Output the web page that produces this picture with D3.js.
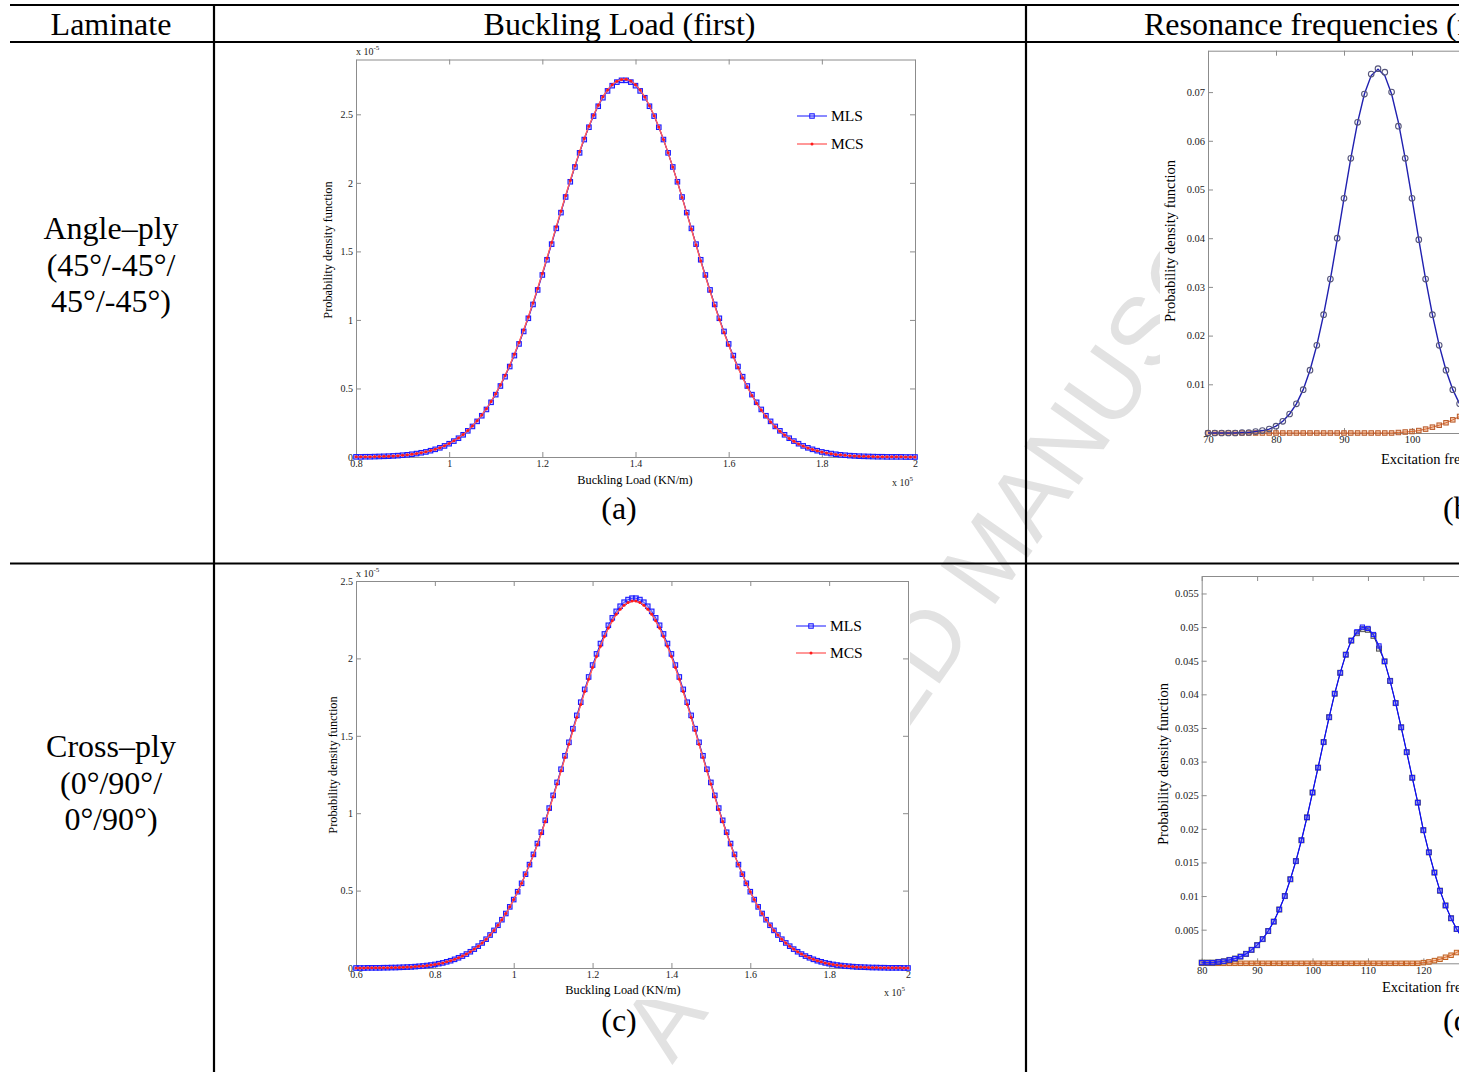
<!DOCTYPE html>
<html>
<head>
<meta charset="utf-8">
<script src="https://cdn.jsdelivr.net/npm/d3@7"></script>
<style>
body { margin: 0; background: #fff; overflow: hidden; }
svg { display: block; }
</style>
</head>
<body>
<div id="chart"></div>
<script>
// table texts
var headers = ["Laminate", "Buckling Load (first)", "Resonance frequencies (first)"];
var laminates = [["Angle\u2013ply", "(45\u00b0/-45\u00b0/", "45\u00b0/-45\u00b0)"], ["Cross\u2013ply", "(0\u00b0/90\u00b0/", "0\u00b0/90\u00b0)"]];
var captions = ["(a)", "(b)", "(c)", "(d)"];
var seriesNames = ["MLS", "MCS"];

// (a) angle-ply buckling load, x in 1e5 KN/m, pdf in 1e-5
var angleLoad = [0.80,0.81,0.82,0.83,0.84,0.85,0.86,0.87,0.88,0.89,
  0.90,0.91,0.92,0.93,0.94,0.95,0.96,0.97,0.98,0.99,
  1.00,1.01,1.02,1.03,1.04,1.05,1.06,1.07,1.08,1.09,
  1.10,1.11,1.12,1.13,1.14,1.15,1.16,1.17,1.18,1.19,
  1.20,1.21,1.22,1.23,1.24,1.25,1.26,1.27,1.28,1.29,
  1.30,1.31,1.32,1.33,1.34,1.35,1.36,1.37,1.38,1.39,
  1.40,1.41,1.42,1.43,1.44,1.45,1.46,1.47,1.48,1.49,
  1.50,1.51,1.52,1.53,1.54,1.55,1.56,1.57,1.58,1.59,
  1.60,1.61,1.62,1.63,1.64,1.65,1.66,1.67,1.68,1.69,
  1.70,1.71,1.72,1.73,1.74,1.75,1.76,1.77,1.78,1.79,
  1.80,1.81,1.82,1.83,1.84,1.85,1.86,1.87,1.88,1.89,
  1.90,1.91,1.92,1.93,1.94,1.95,1.96,1.97,1.98,1.99,2.00];
var angleMLS = [0.001,0.001,0.002,0.002,0.003,0.004,0.005,0.006,0.008,0.010,0.013,0.016,0.020,0.025,0.031,0.037,0.046,0.056,0.067,0.081,
  0.097,0.116,0.137,0.162,0.191,0.223,0.260,0.301,0.347,0.399,0.455,0.518,0.586,0.660,0.740,0.825,0.916,1.012,1.113,1.219,
  1.328,1.439,1.553,1.668,1.783,1.897,2.008,2.116,2.219,2.316,2.406,2.487,2.559,2.621,2.671,2.709,2.735,2.748,
  2.748,2.735,2.709,2.671,2.621,2.559,2.487,2.406,2.316,2.219,2.116,2.008,1.897,1.783,1.668,1.553,1.439,1.328,1.219,1.113,
  1.012,0.916,0.825,0.740,0.660,0.586,0.518,0.455,0.399,0.347,0.301,0.260,0.223,0.191,0.162,0.137,0.116,0.097,0.081,0.067,
  0.056,0.046,0.037,0.031,0.025,0.020,0.016,0.013,0.010,0.008,0.006,0.005,0.004,0.003,0.002,0.002,0.001,0.001,0.001,0.001,0.000,0.000,0.000];
var angleMCS = [0.001,0.001,0.002,0.002,0.003,0.004,0.005,0.006,0.008,0.010,0.013,0.016,0.020,0.025,0.031,0.038,0.047,0.057,0.068,0.082,
  0.099,0.118,0.139,0.165,0.194,0.227,0.264,0.306,0.352,0.405,0.462,0.525,0.594,0.668,0.749,0.835,0.926,1.022,1.124,1.230,
  1.339,1.450,1.564,1.679,1.793,1.906,2.017,2.124,2.227,2.323,2.413,2.494,2.566,2.628,2.678,2.716,2.742,2.755,
  2.756,2.743,2.716,2.677,2.626,2.563,2.490,2.408,2.317,2.219,2.115,2.006,1.894,1.779,1.663,1.547,1.432,1.320,1.211,1.105,
  1.004,0.908,0.817,0.732,0.653,0.579,0.511,0.449,0.393,0.342,0.297,0.256,0.220,0.188,0.160,0.135,0.114,0.095,0.080,0.066,
  0.055,0.045,0.037,0.030,0.024,0.019,0.016,0.012,0.010,0.008,0.006,0.005,0.004,0.003,0.002,0.002,0.001,0.001,0.001,0.001,0.000,0.000,0.000];
var angleLoadTicks = [0.8, 1, 1.2, 1.4, 1.6, 1.8, 2];
var anglePdfTicks = [0, 0.5, 1, 1.5, 2, 2.5];

// (c) cross-ply buckling load
var crossLoad = [0.60,0.61,0.62,0.63,0.64,0.65,0.66,0.67,0.68,0.69,
  0.70,0.71,0.72,0.73,0.74,0.75,0.76,0.77,0.78,0.79,
  0.80,0.81,0.82,0.83,0.84,0.85,0.86,0.87,0.88,0.89,
  0.90,0.91,0.92,0.93,0.94,0.95,0.96,0.97,0.98,0.99,
  1.00,1.01,1.02,1.03,1.04,1.05,1.06,1.07,1.08,1.09,
  1.10,1.11,1.12,1.13,1.14,1.15,1.16,1.17,1.18,1.19,
  1.20,1.21,1.22,1.23,1.24,1.25,1.26,1.27,1.28,1.29,
  1.30,1.31,1.32,1.33,1.34,1.35,1.36,1.37,1.38,1.39,
  1.40,1.41,1.42,1.43,1.44,1.45,1.46,1.47,1.48,1.49,
  1.50,1.51,1.52,1.53,1.54,1.55,1.56,1.57,1.58,1.59,
  1.60,1.61,1.62,1.63,1.64,1.65,1.66,1.67,1.68,1.69,
  1.70,1.71,1.72,1.73,1.74,1.75,1.76,1.77,1.78,1.79,
  1.80,1.81,1.82,1.83,1.84,1.85,1.86,1.87,1.88,1.89,
  1.90,1.91,1.92,1.93,1.94,1.95,1.96,1.97,1.98,1.99,2.00];
var crossMLS = [0.000,0.000,0.000,0.001,0.001,0.001,0.001,0.002,0.002,0.003,0.003,0.004,0.005,0.006,0.007,0.009,0.011,0.013,0.016,0.019,
  0.023,0.028,0.033,0.040,0.047,0.056,0.066,0.077,0.090,0.105,0.122,0.141,0.162,0.186,0.213,0.243,0.276,0.312,0.352,0.395,
  0.442,0.493,0.547,0.606,0.668,0.734,0.804,0.877,0.954,1.033,1.115,1.199,1.284,1.371,1.458,1.546,1.632,1.717,1.800,1.880,
  1.957,2.029,2.096,2.158,2.214,2.262,2.304,2.337,2.363,2.380,2.389,
  2.389,2.380,2.363,2.337,2.304,2.262,2.214,2.158,2.096,2.029,1.957,1.880,1.800,1.717,1.632,1.546,1.458,1.371,1.284,1.199,
  1.115,1.033,0.954,0.877,0.804,0.734,0.668,0.606,0.547,0.493,0.442,0.395,0.352,0.312,0.276,0.243,0.213,0.186,0.162,0.141,
  0.122,0.105,0.090,0.077,0.066,0.056,0.047,0.040,0.033,0.028,0.023,0.019,0.016,0.013,0.011,0.009,0.007,0.006,0.005,0.004,
  0.003,0.003,0.002,0.002,0.001,0.001,0.001,0.001,0.000,0.000];
var crossMCS = [0.000,0.000,0.000,0.001,0.001,0.001,0.001,0.002,0.002,0.003,0.003,0.004,0.005,0.006,0.007,0.009,0.011,0.013,0.016,0.019,
  0.023,0.028,0.033,0.040,0.047,0.056,0.066,0.077,0.090,0.105,0.122,0.141,0.162,0.186,0.213,0.243,0.276,0.312,0.352,0.395,
  0.442,0.493,0.547,0.606,0.668,0.728,0.798,0.870,0.946,1.025,1.106,1.189,1.274,1.360,1.446,1.534,1.619,1.703,1.786,1.865,
  1.941,2.013,2.079,2.141,2.196,2.244,2.286,2.318,2.344,2.361,2.370,
  2.370,2.361,2.344,2.318,2.286,2.244,2.196,2.141,2.079,2.013,1.941,1.865,1.786,1.703,1.619,1.534,1.446,1.360,1.274,1.189,
  1.106,1.025,0.946,0.870,0.798,0.728,0.668,0.606,0.547,0.493,0.442,0.395,0.352,0.312,0.276,0.243,0.213,0.186,0.162,0.141,
  0.122,0.105,0.090,0.077,0.066,0.056,0.047,0.040,0.033,0.028,0.023,0.019,0.016,0.013,0.011,0.009,0.007,0.006,0.005,0.004,
  0.003,0.003,0.002,0.002,0.001,0.001,0.001,0.001,0.000,0.000];
var crossLoadTicks = [0.6, 0.8, 1, 1.2, 1.4, 1.6, 1.8, 2];
var crossPdfTicks = [0, 0.5, 1, 1.5, 2, 2.5];

// (b) angle-ply resonance frequency (Hz)
var angleFreq = [70,71,72,73,74,75,76,77,78,79,80,81,82,83,84,85,86,87,88,89,
  90,91,92,93,94,95,96,97,98,99,100,101,102,103,104,105,106,107,108];
var angleFreqMLS = [0.0000,0.0000,0.0000,0.0000,0.0000,0.0001,0.0001,0.0003,0.0005,0.0008,0.0014,0.0024,0.0039,0.0060,0.0089,0.0129,0.0180,0.0243,0.0316,0.0397,
  0.0482,0.0564,0.0638,0.0696,0.0734,0.0747,0.0734,0.0696,0.0638,0.0564,0.0482,0.0397,0.0316,0.0243,0.0180,0.0129,0.0089,0.0060,0.0039];
var angleFreqMCS = [0.0000,0.0000,0.0000,0.0000,0.0000,0.0001,0.0001,0.0003,0.0005,0.0008,0.0014,0.0024,0.0039,0.0060,0.0089,0.0129,0.0180,0.0243,0.0316,0.0400,
  0.0482,0.0564,0.0638,0.0696,0.0737,0.0748,0.0741,0.0700,0.0630,0.0564,0.0482,0.0397,0.0316,0.0243,0.0180,0.0129,0.0089,0.0060,0.0039];
var angleFreqNext = [0.0000,0.0000,0.0000,0.0000,0.0000,0.0000,0.0000,0.0000,0.0000,0.0000,0.0000,0.0000,0.0000,0.0000,0.0000,0.0000,0.0000,0.0000,0.0000,0.0000,
  0.0000,0.0000,0.0000,0.0000,0.0000,0.0000,0.0000,0.0000,0.0001,0.0002,0.0003,0.0005,0.0008,0.0012,0.0016,0.0021,0.0027,0.0034,0.0042];
var angleFreqTicks = [70, 80, 90, 100, 110, 120, 130];
var angleFreqPdfTicks = [0.01, 0.02, 0.03, 0.04, 0.05, 0.06, 0.07];

// (d) cross-ply resonance frequency (Hz)
var crossFreq = [80,81,82,83,84,85,86,87,88,89,90,91,92,93,94,95,96,97,98,99,
  100,101,102,103,104,105,106,107,108,109,110,111,112,113,114,115,116,117,118,119,
  120,121,122,123,124,125,126,127,128];
var crossFreqMLS = [0.0001,0.0001,0.0001,0.0002,0.0003,0.0005,0.0007,0.0010,0.0014,0.0020,0.0027,0.0036,0.0048,0.0062,0.0080,0.0100,0.0125,0.0152,0.0183,0.0217,
  0.0254,0.0291,0.0329,0.0366,0.0401,0.0432,0.0459,0.0480,0.0493,0.0500,0.0498,0.0489,0.0472,0.0449,0.0420,0.0387,0.0351,0.0314,0.0276,0.0239,
  0.0198,0.0165,0.0135,0.0108,0.0086,0.0067,0.0051,0.0038,0.0028];
var crossFreqMCS = [0.0001,0.0001,0.0001,0.0002,0.0003,0.0005,0.0007,0.0010,0.0014,0.0020,0.0027,0.0036,0.0048,0.0062,0.0080,0.0100,0.0125,0.0152,0.0183,0.0217,
  0.0254,0.0291,0.0329,0.0366,0.0401,0.0432,0.0459,0.0480,0.0491,0.0497,0.0496,0.0487,0.0468,0.0449,0.0420,0.0387,0.0351,0.0314,0.0276,0.0239,
  0.0198,0.0165,0.0135,0.0108,0.0086,0.0067,0.0051,0.0038,0.0028];
var crossFreqNext = [0.0000,0.0000,0.0000,0.0000,0.0000,0.0000,0.0000,0.0000,0.0000,0.0000,0.0000,0.0000,0.0000,0.0000,0.0000,0.0000,0.0000,0.0000,0.0000,0.0000,
  0.0000,0.0000,0.0000,0.0000,0.0000,0.0000,0.0000,0.0000,0.0000,0.0000,0.0000,0.0000,0.0000,0.0000,0.0000,0.0000,0.0000,0.0000,0.0000,0.0000,
  0.0001,0.0002,0.0004,0.0006,0.0009,0.0012,0.0016,0.0021,0.0027];
var crossFreqTicks = [80, 90, 100, 110, 120, 130, 140];
var crossFreqPdfTicks = [0.005, 0.01, 0.015, 0.02, 0.025, 0.03, 0.035, 0.04, 0.045, 0.05, 0.055];

var serif = "'Liberation Serif', 'Times New Roman', serif";

var svg = d3.select("#chart")
    .append("svg")
    .attr("width", 1459)
    .attr("height", 1072);

// watermark sits behind the figures
svg.append("text")
    .attr("transform", "translate(988,556) rotate(-55)")
    .attr("text-anchor", "middle")
    .attr("dominant-baseline", "central")
    .style("font-family", "'Liberation Sans', Arial, sans-serif")
    .style("font-size", "97px")
    .style("fill", "#e2e2e2")
    .text("ACCEPTED MANUSCRIPT");

function fmt(d) { return String(d); }

function drawPanel(p) {
    var g = svg.append("g");
    g.append("rect")
        .attr("x", p.bg[0]).attr("y", p.bg[1])
        .attr("width", p.bg[2]).attr("height", p.bg[3])
        .attr("fill", "#fff");

    var x = d3.scaleLinear().domain(p.xDomain).range(p.xRange);
    var y = d3.scaleLinear().domain(p.yDomain).range(p.yRange);
    var left = p.xRange[0], right = p.xRange[1], bottom = p.yRange[0], top = p.yRange[1];

    // matlab style box, ticks inside on all four sides
    var axes = [
        g.append("g").attr("transform", "translate(0," + bottom + ")")
            .call(d3.axisBottom(x).tickValues(p.xTicks).tickSize(-5).tickSizeOuter(0).tickPadding(3).tickFormat(fmt)),
        g.append("g").attr("transform", "translate(0," + top + ")")
            .call(d3.axisTop(x).tickValues(p.xTicks).tickSize(-5).tickSizeOuter(0).tickFormat("")),
        g.append("g").attr("transform", "translate(" + left + ",0)")
            .call(d3.axisLeft(y).tickValues(p.yTicks).tickSize(-5).tickSizeOuter(0).tickPadding(3).tickFormat(fmt)),
        g.append("g").attr("transform", "translate(" + right + ",0)")
            .call(d3.axisRight(y).tickValues(p.yTicks).tickSize(-5).tickSizeOuter(0).tickFormat(""))
    ];
    axes.forEach(function(a) {
        a.attr("font-family", serif).attr("font-size", p.tickFont);
        a.selectAll(".domain, .tick line").attr("stroke", "#8c8c8c");
        a.selectAll(".tick text").attr("fill", "#222");
    });

    var line = d3.line()
        .x(function(d) { return x(d[0]); })
        .y(function(d) { return y(d[1]); });

    p.series.forEach(function(s) {
        var pts = s.xs.map(function(d, i) { return [d, s.ys[i]]; });
        if (s.line) {
            g.append("path").datum(pts)
                .attr("d", line)
                .attr("fill", "none")
                .attr("stroke", s.line)
                .attr("stroke-width", s.lw || 1);
        }
        if (s.marker == "square") {
            g.append("g").selectAll("rect")
                .data(pts).enter().append("rect")
                .attr("x", function(d) { return x(d[0]) - s.size / 2; })
                .attr("y", function(d) { return y(d[1]) - s.size / 2; })
                .attr("width", s.size).attr("height", s.size)
                .attr("fill", s.fill || "none")
                .attr("stroke", s.stroke)
                .attr("stroke-width", s.sw || 1);
        }
        if (s.marker == "circle") {
            g.append("g").selectAll("circle")
                .data(pts).enter().append("circle")
                .attr("cx", function(d) { return x(d[0]); })
                .attr("cy", function(d) { return y(d[1]); })
                .attr("r", s.size)
                .attr("fill", s.fill || "none")
                .attr("stroke", s.stroke || "none")
                .attr("stroke-width", s.sw || 1);
        }
    });

    // axis labels
    g.append("text")
        .attr("x", p.xLabel[1]).attr("y", p.xLabel[2])
        .attr("text-anchor", p.xLabel[3])
        .style("font-family", serif).style("font-size", p.labelFont)
        .text(p.xLabel[0]);
    g.append("text")
        .attr("transform", "translate(" + p.yLabel[1] + "," + p.yLabel[2] + ") rotate(-90)")
        .attr("text-anchor", "middle")
        .style("font-family", serif).style("font-size", p.labelFont)
        .text(p.yLabel[0]);

    // exponent notes
    (p.exps || []).forEach(function(e) {
        var t = g.append("text")
            .attr("x", e[0]).attr("y", e[1])
            .style("font-family", serif).style("font-size", "10px").attr("fill", "#222");
        t.append("tspan").text("x 10");
        t.append("tspan").attr("dy", -5).style("font-size", "7px").text(e[2]);
    });

    // legend
    if (p.legend) {
        p.series.filter(function(s) { return s.legend; }).forEach(function(s, i) {
            var ly = p.legend[1] + i * p.legend[2], lx = p.legend[0];
            g.append("line")
                .attr("x1", lx).attr("x2", lx + 30).attr("y1", ly).attr("y2", ly)
                .attr("stroke", s.line).attr("stroke-width", s.lw || 1);
            if (s.marker == "square") {
                g.append("rect")
                    .attr("x", lx + 15 - s.size / 2).attr("y", ly - s.size / 2)
                    .attr("width", s.size).attr("height", s.size)
                    .attr("fill", s.fill || "none").attr("stroke", s.stroke);
            } else {
                g.append("circle").attr("cx", lx + 15).attr("cy", ly).attr("r", s.size)
                    .attr("fill", s.fill || "none").attr("stroke", s.stroke || "none");
            }
            g.append("text")
                .attr("x", lx + 34).attr("y", ly + 5)
                .style("font-family", serif).style("font-size", "15.5px")
                .text(s.legend);
        });
    }
}

var blueSq = { marker: "square", size: 4.5, stroke: "#1a1aff", fill: "rgba(110,110,255,0.35)", sw: 1.1 };
function withData(base, extra) { return Object.assign({}, base, extra); }

// (a)
drawPanel({
    bg: [318, 44, 604, 448],
    xDomain: [0.8, 2], xRange: [356, 915],
    yDomain: [0, 2.9], yRange: [457, 59.5],
    xTicks: angleLoadTicks, yTicks: anglePdfTicks, tickFont: "10px", labelFont: "12.3px",
    xLabel: ["Buckling Load (KN/m)", 635, 484, "middle"],
    yLabel: ["Probability density function", 332, 250],
    exps: [[356, 55, "-5"], [892, 486, "5"]],
    legend: [797, 116, 28],
    series: [
        { xs: angleLoad, ys: angleMCS, line: "#ff3030", lw: 1.3 },
        withData(blueSq, { xs: angleLoad, ys: angleMLS, line: "#1414ff", lw: 1, legend: seriesNames[0] }),
        { xs: angleLoad, ys: angleMCS, line: "#ff6060", lw: 1.3, marker: "circle", size: 1.5, fill: "#ff1a1a", legend: seriesNames[1] }
    ]
});

// (c)
drawPanel({
    bg: [318, 566, 592, 434],
    xDomain: [0.6, 2], xRange: [356, 908],
    yDomain: [0, 2.5], yRange: [968, 581],
    xTicks: crossLoadTicks, yTicks: crossPdfTicks, tickFont: "10px", labelFont: "12.3px",
    xLabel: ["Buckling Load (KN/m)", 623, 994, "middle"],
    yLabel: ["Probability density function", 337, 765],
    exps: [[356, 577, "-5"], [884, 996, "5"]],
    legend: [796, 626, 27],
    series: [
        { xs: crossLoad, ys: crossMCS, line: "#ff3030", lw: 1.3 },
        withData(blueSq, { xs: crossLoad, ys: crossMLS, line: "#1414ff", lw: 1, legend: seriesNames[0] }),
        { xs: crossLoad, ys: crossMCS, line: "#ff6060", lw: 1.3, marker: "circle", size: 1.5, fill: "#ff1a1a", legend: seriesNames[1] }
    ]
});

// (b)
drawPanel({
    bg: [1160, 44, 400, 430],
    xDomain: [70, 150], xRange: [1208, 1752],
    yDomain: [0, 0.0785], yRange: [433, 50.7],
    xTicks: angleFreqTicks, yTicks: angleFreqPdfTicks, tickFont: "10.5px", labelFont: "14.5px",
    xLabel: ["Excitation frequency (Hz)", 1381, 464, "start"],
    yLabel: ["Probability density function", 1175, 241],
    series: [
        { xs: angleFreq, ys: angleFreqNext, line: "#d9531e", lw: 1, marker: "square", size: 4.5, stroke: "#b85a2a", fill: "rgba(230,140,80,0.45)" },
        { xs: angleFreq, ys: angleFreqMLS, line: "#2020b0", lw: 1.4 },
        { xs: angleFreq, ys: angleFreqMCS, marker: "circle", size: 2.8, stroke: "#55557a", fill: "none", sw: 1.1 }
    ]
});

// (d)
drawPanel({
    bg: [1150, 566, 400, 434],
    xDomain: [80, 160], xRange: [1201.7, 1645],
    yDomain: [0, 0.0576], yRange: [963.3, 576],
    xTicks: crossFreqTicks, yTicks: crossFreqPdfTicks, tickFont: "10.5px", labelFont: "14.5px",
    xLabel: ["Excitation frequency (Hz)", 1382, 992, "start"],
    yLabel: ["Probability density function", 1168, 764],
    series: [
        { xs: crossFreq, ys: crossFreqNext, line: "#e0401a", lw: 1, marker: "square", size: 4.5, stroke: "#c06020", fill: "rgba(230,150,80,0.45)" },
        { xs: crossFreq, ys: crossFreqMCS, line: "#444", lw: 1, marker: "square", size: 5, stroke: "#555", fill: "rgba(120,120,120,0.3)" },
        { xs: crossFreq, ys: crossFreqMLS, line: "#0a0aff", lw: 1.2, marker: "square", size: 4.2, stroke: "#1a1aff", fill: "rgba(110,110,255,0.3)" }
    ]
});

// table rules
var rules = [[10, 5, 1459, 5], [10, 42, 1459, 42], [10, 563.5, 1459, 563.5], [214, 5, 214, 1072], [1026, 5, 1026, 1072]];
svg.selectAll(".rule")
    .data(rules).enter().append("line")
    .attr("x1", function(d) { return d[0]; }).attr("y1", function(d) { return d[1]; })
    .attr("x2", function(d) { return d[2]; }).attr("y2", function(d) { return d[3]; })
    .attr("stroke", "#000").attr("stroke-width", 2.2);

function tableText(txt, x, y, anchor) {
    svg.append("text")
        .attr("x", x).attr("y", y)
        .attr("text-anchor", anchor || "middle")
        .style("font-family", serif).style("font-size", "32px")
        .text(txt);
}
tableText(headers[0], 111, 34.5);
tableText(headers[1], 619.5, 34.5);
tableText(headers[2], 1144, 34.5, "start");
laminates[0].forEach(function(t, i) { tableText(t, 111, 239 + i * 36.5); });
laminates[1].forEach(function(t, i) { tableText(t, 111, 757 + i * 36.5); });
tableText(captions[0], 619, 519);
tableText(captions[1], 1443, 519, "start");
tableText(captions[2], 619, 1031);
tableText(captions[3], 1443, 1031, "start");
</script>
</body>
</html>
